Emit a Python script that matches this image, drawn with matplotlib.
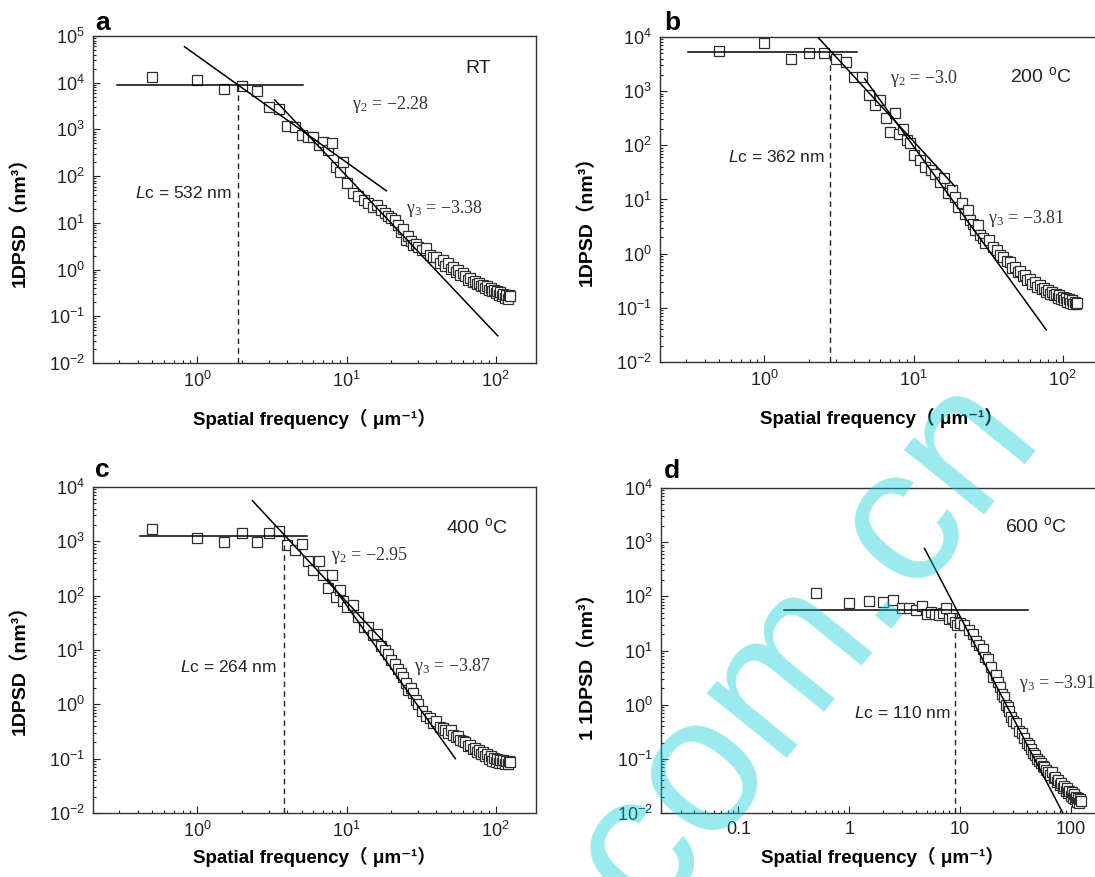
import matplotlib
matplotlib.use("Agg")
import matplotlib.pyplot as plt
from matplotlib.ticker import LogLocator, NullFormatter, FormatStrFormatter

plt.rcParams["font.family"] = ["Liberation Sans", "Noto Sans CJK SC", "DejaVu Sans"]
plt.rcParams["mathtext.fontset"] = "custom"
plt.rcParams["mathtext.rm"] = "Liberation Sans"
plt.rcParams["mathtext.it"] = "Liberation Sans:italic"
plt.rcParams["mathtext.bf"] = "Liberation Sans:bold"
plt.rcParams["mathtext.default"] = "regular"

# spatial frequency of the 1D PSD samples (um^-1)
freq = [0.5, 1.0, 1.5, 2.0, 2.5, 3.0, 3.5, 4.0, 4.5, 5.0,
        5.5, 6.0, 6.5, 7.0, 7.5, 8.0, 8.5, 9.0, 9.5, 10.0,
        11, 12, 13, 14, 15, 16, 17, 18, 19, 20,
        21, 22, 23, 24, 25, 26, 27, 28, 29, 30,
        32, 34, 36, 38, 40, 42, 44, 46, 48, 50, 52, 54, 56, 58, 60,
        62.5, 65, 67.5, 70, 72.5, 75, 77.5, 80, 82.5, 85, 87.5, 90, 92.5,
        95, 97.5, 100, 102.5, 105, 107.5, 110, 112.5, 115, 117.5, 120, 122.5, 125]

# 1DPSD (nm^3) for each annealing temperature
psd_rt = [1.33e4, 1.15e4, 7.4e3, 8.5e3, 6.5e3, 3.0e3, 2.7e3, 1.2e3, 1.15e3, 760,
          690, 700, 470, 550, 360, 510, 160, 120, 200, 70,
          44, 38, 31, 27, 22, 24, 19, 16, 14, 13,
          11.5, 9, 6.5, 7.5, 4.3, 5.2, 4.0, 3.4, 3.6, 3.1,
          2.6, 2.9, 2.1, 1.9, 1.9, 1.4, 1.6, 1.2, 1.35, 1.05, 1.15, 0.9, 0.98, 0.78, 0.85,
          0.72, 0.6, 0.66, 0.55, 0.58, 0.48, 0.52, 0.44, 0.47, 0.4, 0.44, 0.36, 0.4,
          0.34, 0.37, 0.31, 0.35, 0.29, 0.33, 0.27, 0.3, 0.25, 0.29, 0.24, 0.28, 0.27]
psd_200 = [5.5e3, 7.8e3, 4.0e3, 5.0e3, 5.1e3, 3.85e3, 3.5e3, 1.8e3, 1.8e3, 850,
           550, 680, 315, 176, 390, 165, 200, 126, 110, 66,
           54, 40, 35, 30, 21, 25, 13, 15, 11, 7.3,
           8.5, 5.5, 6.5, 4.2, 3.6, 2.7, 3.4, 2.2, 1.95, 1.6,
           1.78, 1.3, 1.15, 0.95, 0.88, 0.72, 0.7, 0.55, 0.57, 0.46, 0.48, 0.39, 0.4, 0.33, 0.34,
           0.28, 0.3, 0.245, 0.26, 0.22, 0.23, 0.2, 0.21, 0.18, 0.2, 0.17, 0.18, 0.155,
           0.17, 0.145, 0.16, 0.14, 0.15, 0.13, 0.145, 0.125, 0.14, 0.12, 0.13, 0.118, 0.125]
psd_400 = [1.68e3, 1.15e3, 960, 1.42e3, 960, 1.42e3, 1.58e3, 860, 680, 890,
           430, 300, 430, 240, 138, 240, 95, 126, 80, 63,
           68, 40, 27, 27, 19, 20, 12, 10, 8.5, 6.6,
           5.5, 4.5, 3.8, 3.2, 2.5, 1.84, 2.0, 1.6, 1.2, 1.0,
           0.75, 0.6, 0.55, 0.46, 0.5, 0.39, 0.36, 0.34, 0.3, 0.34, 0.27, 0.25, 0.26, 0.22, 0.21,
           0.2, 0.17, 0.18, 0.15, 0.16, 0.13, 0.145, 0.12, 0.13, 0.11, 0.12, 0.1, 0.11,
           0.092, 0.104, 0.088, 0.1, 0.085, 0.096, 0.082, 0.094, 0.08, 0.092, 0.079, 0.09, 0.088]
psd_600 = [116, 76, 83, 79, 87, 60, 62, 56, 66, 48,
           52, 48, 45, 50, 60, 38, 39, 34, 30, 32,
           29.5, 24, 20, 15, 12.6, 10.5, 7.6, 7.0, 5.0, 3.3,
           3.6, 2.6, 2.1, 1.6, 1.4, 1.0, 0.9, 0.75, 0.6, 0.5,
           0.45, 0.33, 0.3, 0.24, 0.2, 0.18, 0.15, 0.13, 0.12, 0.1, 0.09, 0.085, 0.075, 0.07, 0.062,
           0.058, 0.05, 0.056, 0.045, 0.047, 0.038, 0.041, 0.033, 0.036, 0.029, 0.032, 0.026, 0.029,
           0.023, 0.026, 0.021, 0.024, 0.019, 0.022, 0.018, 0.02, 0.016, 0.019, 0.015, 0.018, 0.017]

panel_letters = ["a", "b", "c", "d"]
temperatures = ["RT", "200 $^{o}$C", "400 $^{o}$C", "600 $^{o}$C"]
lc_nm = [532, 362, 264, 110]
gamma2 = [-2.28, -3.0, -2.95, None]
gamma3 = [-3.38, -3.81, -3.87, -3.91]

# flat low-frequency level and its frequency span
plateau = [9.1e3, 5.2e3, 1.28e3, 55.6]
plateau_span = [(0.29, 5.1), (0.31, 4.2), (0.41, 5.4), (0.26, 41)]
# power-law fits: (f_start, psd_start, f_end), slope taken from gamma
fit_g2 = [(0.82, 5.9e4, 18.5), (2.28, 1.0e4, 18.9), (2.34, 5.6e3, 18.8), None]
fit_g3 = [(3.3, 4.3e3, 103), (4.7, 1.7e3, 77.4), (7.5, 202, 53.6), (4.79, 765, 85)]

W, H = 1095, 877
XLABEL = "Spatial frequency\uff08 \u03bcm\u207b\u00b9\uff09"


def px_axes(left, top, right, bottom):
    return [left / W, 1 - bottom / H, (right - left) / W, (bottom - top) / H]


def power_law(seg, gamma):
    f0, p0, f1 = seg
    return [f0, f1], [p0, p0 * (f1 / f0) ** gamma]


def plot_panel(ax, psd, idx, xlim, ylim, text_pos, ylabel="1DPSD\uff08nm\u00b3\uff09", plain_x=False):
    ax.plot(freq, psd, ls="none", marker="s", ms=7.4, mfc="white",
            mec="#2e2e2e", mew=0.9, zorder=2)

    lo, hi = plateau_span[idx]
    ax.plot([lo, hi], [plateau[idx], plateau[idx]], color="black", lw=1.1, zorder=3)
    for seg, g in ((fit_g2[idx], gamma2[idx]), (fit_g3[idx], gamma3[idx])):
        if seg is None:
            continue
        xs, ys = power_law(seg, g)
        ax.plot(xs, ys, color="black", lw=1.1, zorder=3)

    fc = 1000.0 / lc_nm[idx]
    ax.plot([fc, fc], [ylim[0], plateau[idx]], color="#222222", lw=1.0,
            dashes=(4, 3), zorder=3)

    ax.set_xscale("log")
    ax.set_yscale("log")
    ax.set_xlim(*xlim)
    ax.set_ylim(*ylim)

    ax.xaxis.set_major_locator(LogLocator(base=10, numticks=20))
    ax.xaxis.set_minor_locator(LogLocator(base=10, subs=[2, 3, 4, 5, 6, 7, 8, 9], numticks=20))
    ax.yaxis.set_major_locator(LogLocator(base=10, numticks=20))
    ax.yaxis.set_minor_locator(LogLocator(base=10, subs=[2, 3, 4, 5, 6, 7, 8, 9], numticks=20))
    ax.xaxis.set_minor_formatter(NullFormatter())
    ax.yaxis.set_minor_formatter(NullFormatter())
    if plain_x:
        ax.xaxis.set_major_formatter(FormatStrFormatter("%g"))

    ax.tick_params(which="both", direction="in", top=False, right=False,
                   width=0.8, colors="#222222", labelsize=13, pad=6)
    ax.tick_params(which="major", length=5)
    ax.tick_params(which="minor", length=2.5)
    for sp in ax.spines.values():
        sp.set_linewidth(1.0)
        sp.set_color("#333333")

    ax.set_xlabel(XLABEL, fontsize=13.5, fontweight="bold")
    ax.set_ylabel(ylabel, fontsize=14, fontweight="bold")
    ax.xaxis.set_label_coords(0.5, text_pos["xlab"])
    ax.yaxis.set_label_coords(-0.145, text_pos["ylab"])

    tx, ty = text_pos["temp"]
    ax.text(tx, ty, temperatures[idx], transform=ax.transAxes, ha="center",
            va="center", fontsize=14, color="#222222")
    lx, ly = text_pos["lc"]
    ax.text(lx, ly, "$\\mathit{L}$c = %d nm" % lc_nm[idx], transform=ax.transAxes,
            ha="center", va="center", fontsize=12.5, color="#222222")
    if gamma2[idx] is not None:
        gx, gy = text_pos["g2"]
        ax.text(gx, gy, "\u03b3$_{2}$ = \u2212%s" % str(abs(gamma2[idx])),
                transform=ax.transAxes, ha="center", va="center", fontsize=13,
                family="Liberation Serif", color="#333333")
    gx, gy = text_pos["g3"]
    ax.text(gx, gy, "\u03b3$_{3}$ = \u2212%.2f" % abs(gamma3[idx]),
            transform=ax.transAxes, ha="center", va="center", fontsize=13,
            family="Liberation Serif", color="#333333")


if __name__ == "__main__":
    fig = plt.figure(figsize=(W / 100, H / 100), dpi=100)

    ax_a = fig.add_axes(px_axes(93, 36, 536, 363))
    ax_b = fig.add_axes(px_axes(660, 37, 1103, 362))
    ax_c = fig.add_axes(px_axes(93, 487, 536, 813))
    ax_d = fig.add_axes(px_axes(661, 488, 1104, 813))

    plot_panel(ax_a, psd_rt, 0, (0.2, 186), (1e-2, 1e5),
               {"temp": (0.869, 0.902), "g2": (0.672, 0.789), "g3": (0.793, 0.474),
                "lc": (0.204, 0.52), "ylab": 0.446, "xlab": -0.14})
    plot_panel(ax_b, psd_200, 1, (0.2, 186), (1e-2, 1e4),
               {"temp": (0.859, 0.88), "g2": (0.597, 0.871), "g3": (0.828, 0.443),
                "lc": (0.263, 0.631), "ylab": 0.45, "xlab": -0.14})
    plot_panel(ax_c, psd_400, 2, (0.2, 186), (1e-2, 1e4),
               {"temp": (0.866, 0.878), "g2": (0.624, 0.791), "g3": (0.811, 0.449),
                "lc": (0.306, 0.447), "ylab": 0.454, "xlab": -0.103})
    plot_panel(ax_d, psd_600, 3, (0.02, 200), (1e-2, 1e4),
               {"temp": (0.845, 0.883), "g2": None, "g3": (0.894, 0.40),
                "lc": (0.546, 0.309), "ylab": 0.465, "xlab": -0.103},
               ylabel="1 1DPSD\uff08nm\u00b3\uff09", plain_x=True)

    for letter, (x, y) in zip(panel_letters, [(95, 30), (664, 30), (95, 477), (664, 478)]):
        fig.text(x / W, 1 - y / H, letter, fontsize=19, fontweight="bold", va="baseline")

    fig.text(805 / W, 1 - 645 / H, "com.cn", rotation=51, rotation_mode="anchor",
             ha="center", va="center", fontsize=140, color=(0.0, 0.8, 0.84),
             alpha=0.4, zorder=10)

    fig.savefig("out.png", dpi=100)
    plt.close(fig)
